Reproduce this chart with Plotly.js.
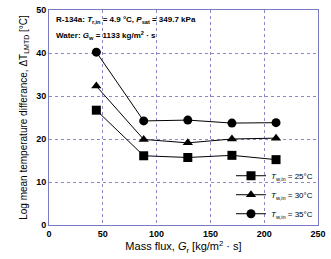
<!DOCTYPE html>
<html><head><meta charset="utf-8">
<script src="https://cdn.plot.ly/plotly-3.0.1.min.js"></script>
<style>html,body{margin:0;padding:0;background:#fff}#c{width:331px;height:259px}</style>
</head><body><div id="c"></div>
<script>
const massFlux = [44, 88, 129, 170, 211];
const lmtd25 = [26.7, 16.1, 15.7, 16.2, 15.2];
const lmtd30 = [32.3, 19.9, 19.1, 20.0, 20.2];
const lmtd35 = [40.2, 24.2, 24.4, 23.7, 23.8];
const seriesNames = ['<i>T</i><sub>w,in</sub> = 25°C', '<i>T</i><sub>w,in</sub> = 30°C', '<i>T</i><sub>w,in</sub> = 35°C'];
const symbols = ['square', 'triangle-up', 'circle'];
const series = [lmtd25, lmtd30, lmtd35];

const traces = series.map((ys, i) => ({
  x: massFlux, y: ys, name: seriesNames[i], type: 'scatter', mode: 'lines+markers',
  line: {color: '#000', width: 1},
  marker: {symbol: symbols[i], size: 9, color: '#000'}
}));

const grid = {showgrid: true, gridcolor: '#8a8ac8', griddash: 'dot', gridwidth: 1};
const layout = {
  width: 331, height: 259,
  margin: {l: 49, r: 13, t: 10, b: 34},
  paper_bgcolor: '#fff', plot_bgcolor: '#fff',
  font: {family: 'Liberation Sans, Arial, sans-serif', color: '#000'},
  showlegend: true,
  legend: {x: 1.0, xanchor: 'right', y: -0.015, yanchor: 'bottom', bgcolor: 'rgba(0,0,0,0)',
           font: {size: 8}, tracegroupgap: 0, itemwidth: 30, traceorder: 'normal'},
  xaxis: Object.assign({range: [0, 250], tickvals: [0, 50, 100, 150, 200, 250], zeroline: false,
    showline: true, mirror: true, linecolor: '#7a7ac0', ticks: '',
    tickfont: {size: 9, family: 'Liberation Sans, Arial, sans-serif', weight: 'bold'},
    title: {text: 'Mass flux, <i>G</i><sub>r</sub> [kg/m<sup>2</sup> · s]', font: {size: 11}, standoff: 4}}, grid),
  yaxis: Object.assign({range: [0, 50], tickvals: [0, 10, 20, 30, 40, 50], zeroline: false,
    showline: true, mirror: true, linecolor: '#7a7ac0', ticks: '',
    tickfont: {size: 9, family: 'Liberation Sans, Arial, sans-serif', weight: 'bold'},
    title: {text: 'Log mean temperature differance, ΔT<sub>LMTD</sub> [°C]', font: {size: 10}, standoff: 6}}, grid),
  annotations: [
    {xref: 'paper', yref: 'paper', x: 0.02, y: 0.985, xanchor: 'left', yanchor: 'top', showarrow: false,
     text: '<b>R-134a: <i>T</i><sub>r,in</sub> = 4.9 °C, <i>P</i><sub>sat</sub> = 349.7 kPa</b>', font: {size: 8}},
    {xref: 'paper', yref: 'paper', x: 0.02, y: 0.915, xanchor: 'left', yanchor: 'top', showarrow: false,
     text: '<b>Water: <i>G</i><sub>w</sub> = 1133 kg/m<sup>2</sup> · s</b>', font: {size: 8}}
  ]
};
Plotly.newPlot('c', traces, layout, {displayModeBar: false, staticPlot: true});
</script></body></html>
